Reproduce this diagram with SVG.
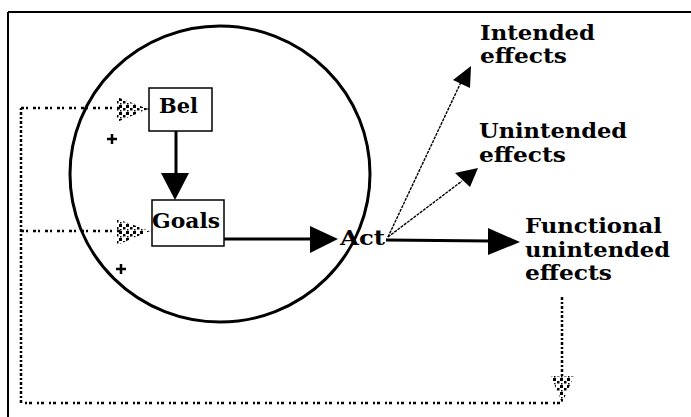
<svg xmlns="http://www.w3.org/2000/svg" width="691" height="417" viewBox="0 0 691 417">
<style>
.lbl{font-family:"DejaVu Serif","Liberation Serif",serif;font-weight:bold;font-size:20px;fill:#000}
.box{fill:#fff;stroke:#000;stroke-width:1.5}
.thick{stroke:#000;stroke-width:3;fill:none}
.thin{stroke:#000;stroke-width:1.4;fill:none;stroke-dasharray:3 1}
.dot{stroke:#000;stroke-width:2.5;fill:none;stroke-dasharray:3 2 2 5}
.dotv{stroke:#000;stroke-width:2.5;fill:none;stroke-dasharray:3 2 2 2}
.plus{stroke:#000;stroke-width:2.5}
</style>
<defs>
<pattern id="stip" width="7" height="7" patternUnits="userSpaceOnUse">
<rect x="0" y="0" width="3" height="3" fill="#000"/>
<rect x="4" y="3" width="2.5" height="2.5" fill="#000"/>
<rect x="1" y="5" width="1.5" height="1.5" fill="#000"/>
</pattern>
</defs>
<rect width="691" height="417" fill="#fff"/>
<g id="frame">
<line x1="8" y1="12" x2="691" y2="12" stroke="#000" stroke-width="2"/>
<line x1="8" y1="12" x2="8" y2="417" stroke="#000" stroke-width="2"/>
</g>
<g id="agent">
<ellipse cx="220" cy="174" rx="150" ry="148" fill="none" stroke="#000" stroke-width="3"/>
<line class="plus" x1="107" y1="139" x2="117" y2="139"/>
<line class="plus" x1="112" y1="134" x2="112" y2="144"/>
<line class="plus" x1="116" y1="269" x2="126" y2="269"/>
<line class="plus" x1="121" y1="264" x2="121" y2="274"/>
</g>
<g id="connectors">
<line class="thick" x1="176" y1="131" x2="176" y2="176"/>
<polygon points="161,173 189,173 175,200" fill="#000"/>
<line class="thick" x1="224" y1="239" x2="312" y2="239"/>
<polygon points="310,226 310,253 338,239" fill="#000"/>
<line class="thick" x1="386" y1="240" x2="490" y2="241"/>
<polygon points="488,228 488,255 520,242" fill="#000"/>
<line class="thin" x1="388" y1="237" x2="462" y2="80"/>
<polygon points="471,66 453,80 470,88" fill="#000"/>
<line class="thin" x1="388" y1="237" x2="462" y2="181"/>
<polygon points="478,168 455,173 470,187" fill="#000"/>
<polyline class="dotv" points="562,297 562,378"/>
<polygon points="551,376 574,376 562,403" fill="url(#stip)"/>
<polyline class="dot" points="560,403 21,403"/>
<polyline class="dotv" points="21,403 21,108"/>
<polyline class="dot" points="21,108 120,108"/>
<line x1="146" y1="109" x2="150" y2="109" stroke="#000" stroke-width="1"/>
<polygon points="117,97 117,122 148,109" fill="url(#stip)"/>
<polyline class="dot" points="21,231 120,231"/>
<polygon points="117,219 117,245 150,231" fill="url(#stip)"/>
</g>
<g id="bel">
<rect class="box" x="149" y="88" width="63" height="43"/>
<text class="lbl" x="159" y="113" textLength="39" lengthAdjust="spacingAndGlyphs">Bel</text>
</g>
<g id="goals">
<rect class="box" x="152" y="200" width="72" height="46"/>
<text class="lbl" x="152" y="228" textLength="68" lengthAdjust="spacingAndGlyphs">Goals</text>
</g>
<g id="act">
<text class="lbl" x="340" y="245" textLength="45" lengthAdjust="spacingAndGlyphs">Act</text>
</g>
<g id="intended">
<text class="lbl" x="480" y="40" textLength="115" lengthAdjust="spacingAndGlyphs">Intended</text>
<text class="lbl" x="480" y="63" textLength="87" lengthAdjust="spacingAndGlyphs">effects</text>
</g>
<g id="unintended">
<text class="lbl" x="479" y="138" textLength="148" lengthAdjust="spacingAndGlyphs">Unintended</text>
<text class="lbl" x="479" y="162" textLength="87" lengthAdjust="spacingAndGlyphs">effects</text>
</g>
<g id="functional">
<text class="lbl" x="525" y="233" textLength="137" lengthAdjust="spacingAndGlyphs">Functional</text>
<text class="lbl" x="525" y="257" textLength="145" lengthAdjust="spacingAndGlyphs">unintended</text>
<text class="lbl" x="525" y="280" textLength="87" lengthAdjust="spacingAndGlyphs">effects</text>
</g>
</svg>
